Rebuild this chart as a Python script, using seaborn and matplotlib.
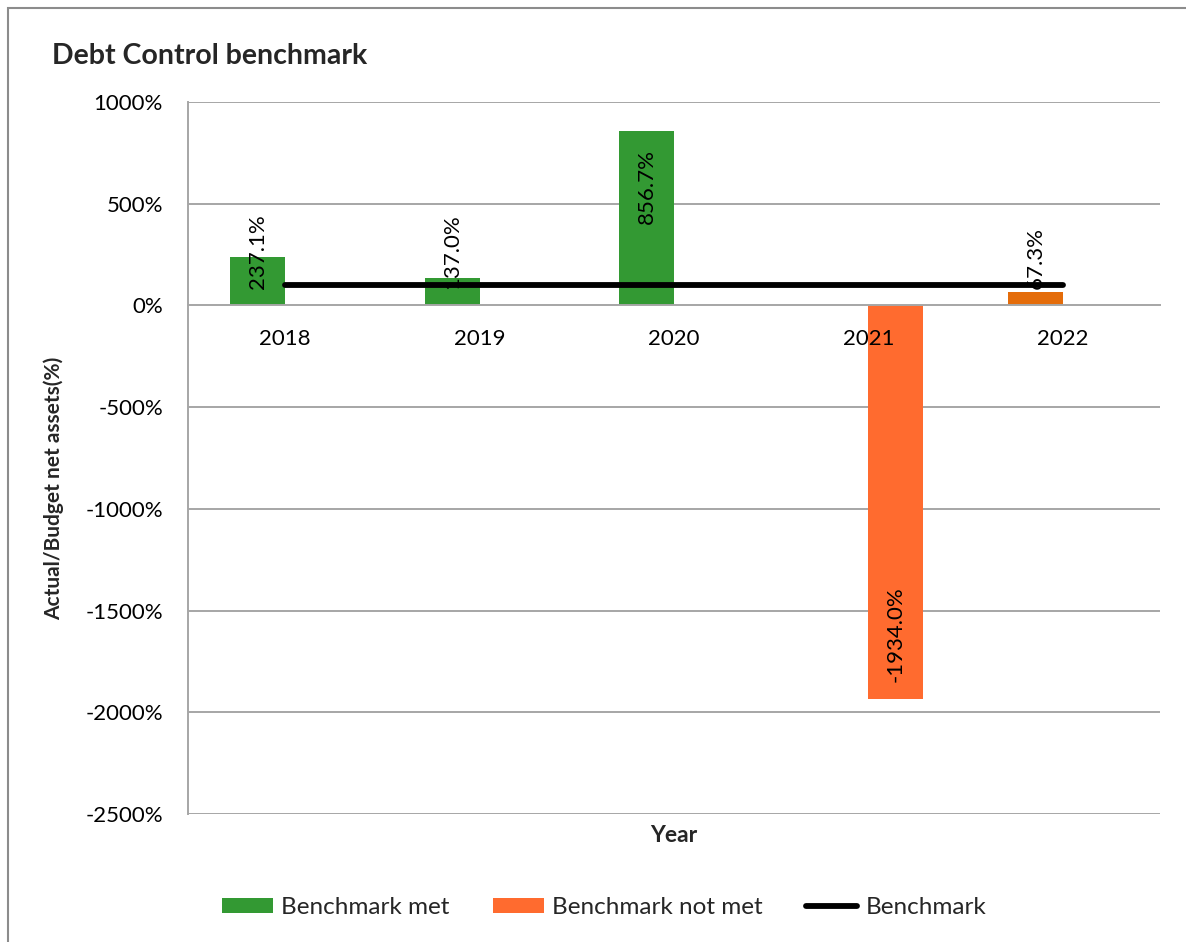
import numpy as np
import pandas as pd
import matplotlib
matplotlib.use("Agg")
import matplotlib.pyplot as plt
from matplotlib.patches import Rectangle, Patch
from matplotlib.lines import Line2D
import seaborn as sns

# ---- data -------------------------------------------------------------
years = ["2018", "2019", "2020", "2021", "2022"]
met_years = ["2018", "2019", "2020", "2022"]
met_values = [237.1, 137.0, 856.7, 67.3]
not_met_years = ["2021"]
not_met_values = [-1934.0]
benchmark_values = [100, 100, 100, 100, 100]
series = ["Benchmark met", "Benchmark not met"]
y_ticks = [-2500, -2000, -1500, -1000, -500, 0, 500, 1000]

GREEN = "#339933"
ORANGE = "#FF6B2F"
DARK_ORANGE = "#E46C0A"
GRID = "#A6A6A6"
# single bars drawn in a different shade than their series
point_colors = {"2022": DARK_ORANGE}

df = pd.DataFrame({
    "Year": met_years + not_met_years,
    "Value": met_values + not_met_values,
    "Series": [series[0]] * len(met_years) + [series[1]] * len(not_met_years),
})

sns.set_theme(style="white")
plt.rcParams["font.family"] = ["Lato", "DejaVu Sans"]

W, H = 1186, 942
fig = plt.figure(figsize=(W / 100, H / 100), dpi=100)
left, right, top, bottom = 188, 1160, 102, 814
ax = fig.add_axes([left / W, 1 - bottom / H, (right - left) / W, (bottom - top) / H])

sns.barplot(data=df, x="Year", y="Value", hue="Series", order=years,
            hue_order=series, palette=[GREEN, ORANGE], width=0.566, gap=0,
            dodge=True, saturation=1, errorbar=None, legend=False, ax=ax,
            linewidth=0, zorder=2)

# recolour individual bars
for p in ax.patches:
    cx = p.get_x() + p.get_width() / 2
    idx = int(round(cx))
    if years[idx] in point_colors:
        p.set_facecolor(point_colors[years[idx]])

# horizontal gridlines behind the bars
for v in y_ticks:
    if v != 0:
        ax.axhline(v, color=GRID, linewidth=1.4, zorder=0)

# benchmark line, drawn over bars and labels
sns.lineplot(x=np.arange(len(years)), y=benchmark_values, color="black",
             linewidth=4.2, ax=ax, solid_capstyle="round", zorder=4)

# value labels, rotated
for p in ax.patches:
    h = p.get_height()
    if np.isnan(h):
        continue
    cx = p.get_x() + p.get_width() / 2
    if h > 400:
        y, va, dy = h, "top", -13
    elif h >= 0:
        y, va, dy = 0, "bottom", 12
    else:
        y, va, dy = h, "bottom", 12
    ax.annotate(f"{h:.1f}%", (cx, y), xytext=(0, dy), textcoords="offset points",
                rotation=90, ha="center", va=va, fontsize=16, color="black",
                zorder=3)

# axes styling
ax.set_axisbelow(False)
ax.set_xlim(-0.5, len(years) - 0.5)
ax.set_ylim(-2500, 1000)
ax.set_yticks(y_ticks)
ax.set_yticklabels([f"{v}%" for v in y_ticks])
ax.set_xticks(range(len(years)))
ax.set_xticklabels(years)
ax.set_xticks(np.arange(-0.5, len(years)), minor=True)
ax.tick_params(axis="x", which="major", length=0, pad=17, labelsize=16,
               colors="black")
ax.tick_params(axis="x", which="minor", length=6, width=1.3, color=GRID,
               direction="out")
ax.tick_params(axis="y", which="major", length=6, width=1.3, color=GRID,
               direction="out", pad=12, labelsize=16, labelcolor="black")
ax.grid(False)
for s in ["top", "right"]:
    ax.spines[s].set_visible(False)
ax.spines["left"].set_color(GRID)
ax.spines["left"].set_linewidth(1.4)
ax.spines["bottom"].set_position(("data", 0))
ax.spines["bottom"].set_color(GRID)
ax.spines["bottom"].set_linewidth(1.4)
ax.set_xlabel("")
ax.set_ylabel("")

# titles
fig.text(52 / W, 1 - 56 / H, "Debt Control benchmark", fontsize=20.5,
         fontweight="bold", ha="left", va="center")
fig.text(54 / W, 1 - 488 / H, "Actual/Budget net assets(%)", fontsize=15,
         fontweight="bold", rotation=90, ha="center", va="center")
fig.text(674 / W, 1 - 835 / H, "Year", fontsize=16.5, fontweight="bold",
         ha="center", va="center")

# legend
handles = [
    Patch(facecolor=GREEN, edgecolor="none", label=series[0]),
    Patch(facecolor=ORANGE, edgecolor="none", label=series[1]),
    Line2D([0], [0], color="black", linewidth=4.2, solid_capstyle="round",
           label="Benchmark"),
]
fig.legend(handles=handles, loc="center", bbox_to_anchor=(604 / W, 1 - 908 / H),
           ncol=3, frameon=False, fontsize=17.5, handlelength=2.1,
           handleheight=0.58, handletextpad=0.33, columnspacing=1.8)

# outer frame
fig.patches.append(Rectangle((8 / W, -0.05), 1.2, 1 - 8 / H + 0.05,
                             transform=fig.transFigure, fill=False,
                             edgecolor="#8C8C8C", linewidth=1.5))

fig.savefig("out.png", dpi=100)
